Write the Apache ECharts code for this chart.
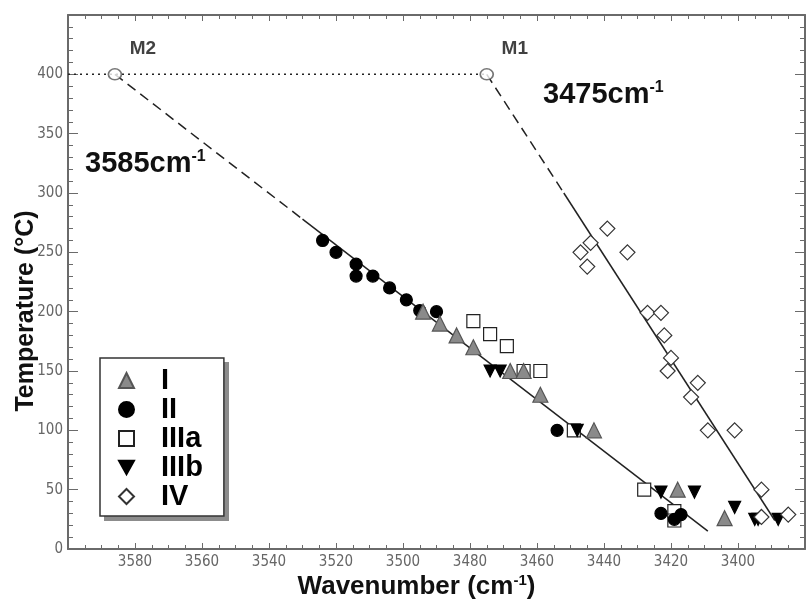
<!DOCTYPE html>
<html><head><meta charset="utf-8">
<script src="https://cdn.jsdelivr.net/npm/echarts@6/dist/echarts.min.js"></script>
<style>html,body{margin:0;padding:0;background:#fff}#c{width:806px;height:599px}</style>
</head><body><div id="c"></div>
<script>
// ---- data (wavenumber cm-1, temperature °C) ----
const seriesNames = ['I', 'II', 'IIIa', 'IIIb', 'IV'];
const dataI = [[3494,200],[3489,190],[3484,180],[3479,170],[3468,150],[3464,150],[3459,130],[3443,100],[3418,50],[3404,26]];
const dataII = [[3524,260],[3520,250],[3514,240],[3514,230],[3509,230],[3504,220],[3499,210],[3495,201],[3490,200],[3454,100],[3423,30],[3419,25],[3417,29]];
const dataIIIa = [[3479,192],[3474,181],[3469,171],[3464,150],[3459,150],[3449,100],[3428,50],[3419,32],[3419,24]];
const dataIIIb = [[3474,150],[3471,150],[3448,100],[3423,48],[3413,48],[3401,35],[3395,25],[3394,25],[3388,25]];
const dataIV = [[3439,270],[3444,258],[3447,250],[3445,238],[3433,250],[3427,199],[3423,199],[3422,180],[3420,161],[3421,150],[3412,140],[3414,128],[3409,100],[3401,100],[3393,50],[3393,27],[3385,29]];
const endMembers = [[3586,400,'M2'],[3475,400,'M1']];
const dottedLine = [[3600,400],[3475,400]];
const fitM2Dashed = [[3586,400],[3530,278]];
const fitM2Solid = [[3530,278],[3409,15]];
const fitM1Dashed = [[3475,400],[3452,300]];
const fitM1Solid = [[3452,300],[3389,24]];
const xRange = [3380, 3600];
const yRange = [0, 450];

const chart = echarts.init(document.getElementById('c'), null, {renderer:'canvas'});
const axisCol = '#6a6a6a';
const tickFont = {fontFamily:'Liberation Sans Narrow, DejaVu Sans Condensed, sans-serif', fontSize:15, color:'#666'};
const titleFont = {fontFamily:'Liberation Sans, Arial, sans-serif', fontSize:25, fontWeight:'bold', color:'#111'};
const downTriangle = 'path://M0,0 L10,0 L5,9 Z';

function xAx(pos, labels){
  return {type:'value', position:pos, min:xRange[0], max:xRange[1], interval:20, inverse:true,
    axisLine:{show:true, onZero:false, lineStyle:{color:axisCol, width:2}},
    axisTick:{show:true, inside:true, length:6, lineStyle:{color:axisCol}},
    minorTick:{show:true, splitNumber:4, length:4, lineStyle:{color:axisCol}},
    splitLine:{show:false},
    axisLabel:{show:labels, showMinLabel:false, showMaxLabel:false, margin:6, formatter:v=>String(v), ...tickFont},
    name: labels ? 'Wavenumber (cm{s|-1})' : '', nameLocation:'middle', nameGap:24, nameMoveOverlap:false,
    nameTextStyle:{...titleFont, fontSize:26, padding:[0,40,0,0], rich:{s:{fontSize:15, fontWeight:'bold', fontFamily:titleFont.fontFamily, padding:[0,0,12,0]}}}
  };
}
function yAx(pos, labels){
  return {type:'value', position:pos, min:yRange[0], max:yRange[1], interval:50,
    axisLine:{show:true, onZero:false, lineStyle:{color:axisCol, width:2}},
    axisTick:{show:true, inside:true, length:10, lineStyle:{color:axisCol}},
    minorTick:{show:true, splitNumber:5, length:5, lineStyle:{color:axisCol}},
    splitLine:{show:false},
    axisLabel:{show:labels, showMaxLabel:false, margin:5, formatter:v=>String(v), ...tickFont},
    name: labels ? 'Temperature (°C)' : '', nameLocation:'middle', nameGap:29, nameMoveOverlap:false,
    nameTextStyle:{...titleFont, padding:[0,58,0,0]}
  };
}

const markerStyles = {
  'I':   {symbol:'triangle',   size:15, fill:'#8a8a8a', border:'#555', z:5},
  'II':  {symbol:'circle',     size:12, fill:'#000',    border:'#000', z:3},
  'IIIa':{symbol:'rect',       size:13, fill:'#fff',    border:'#222', z:2},
  'IIIb':{symbol:downTriangle, size:12, fill:'#000',    border:'#000', z:4},
  'IV':  {symbol:'diamond',    size:15, fill:'#fff',    border:'#333', z:6}
};
const dataBySeries = {'I':dataI, 'II':dataII, 'IIIa':dataIIIa, 'IIIb':dataIIIb, 'IV':dataIV};

const scatterSeries = seriesNames.map(n => {
  const m = markerStyles[n];
  return {name:n, type:'scatter', data:dataBySeries[n], symbol:m.symbol, symbolSize:m.size,
    z:m.z, itemStyle:{color:m.fill, borderColor:m.border, borderWidth:1.2, opacity:1}};
});

function lineSeries(data, type){
  return {type:'line', data:data, symbol:'none', silent:true, z:1, animation:false,
    lineStyle:{color:'#222', width:1.5, type:type}};
}

const annoFont = 'Liberation Sans Narrow, Liberation Sans, sans-serif';
chart.setOption({
  animation:false,
  backgroundColor:'#fff',
  grid:{left:68, right:1, top:15, bottom:50, containLabel:false, outerBoundsMode:'none'},
  xAxis:[xAx('bottom', true), xAx('top', false)],
  yAxis:[yAx('left', true), yAx('right', false)],
  legend:{
    data:seriesNames.map(n => ({name:n, icon:markerStyles[n].symbol})),
    orient:'vertical', left:100, top:358, z:10,
    itemWidth:15, itemHeight:15, itemGap:0,
    padding:[8,21,5,18],
    backgroundColor:'#fff', borderColor:'#333', borderWidth:1.5,
    formatter: n => '{t|' + n + '}',
    textStyle:{rich:{t:{fontSize:29, fontWeight:'bold', fontFamily:'Liberation Sans, Arial, sans-serif', color:'#000', lineHeight:29, padding:[0,0,0,22]}}}
  },
  series:[
    lineSeries(dottedLine, [2,4]),
    lineSeries(fitM2Dashed, [10,6]),
    lineSeries(fitM2Solid, 'solid'),
    lineSeries(fitM1Dashed, [10,6]),
    lineSeries(fitM1Solid, 'solid'),
    ...scatterSeries,
    {type:'scatter', data:endMembers, symbol:'circle', symbolSize:[13,11], z:7, silent:true,
      itemStyle:{color:'#fff', borderColor:'#555', borderWidth:1.6},
      label:{show:true, formatter:p=>p.data[2], position:'top', offset:[28,-5],
        fontFamily:annoFont, fontWeight:'bold', fontSize:19, color:'#111'}}
  ],
  graphic:[
    {type:'rect', left:104, top:362, z:1, silent:true, shape:{width:125, height:159}, style:{fill:'#8c8c8c'}},
    {type:'text', left:543, top:80, z:10, style:{text:'3475cm{s|-1}', font:'bold 29px "Liberation Sans Narrow", sans-serif', fill:'#111',
      rich:{s:{fontSize:16, fontWeight:'bold', fontFamily:annoFont, fill:'#111', padding:[0,0,14,0]}}}},
    {type:'text', left:85, top:149, z:10, style:{text:'3585cm{s|-1}', font:'bold 29px "Liberation Sans Narrow", sans-serif', fill:'#111',
      rich:{s:{fontSize:16, fontWeight:'bold', fontFamily:annoFont, fill:'#111', padding:[0,0,14,0]}}}}
  ]
});
</script></body></html>
